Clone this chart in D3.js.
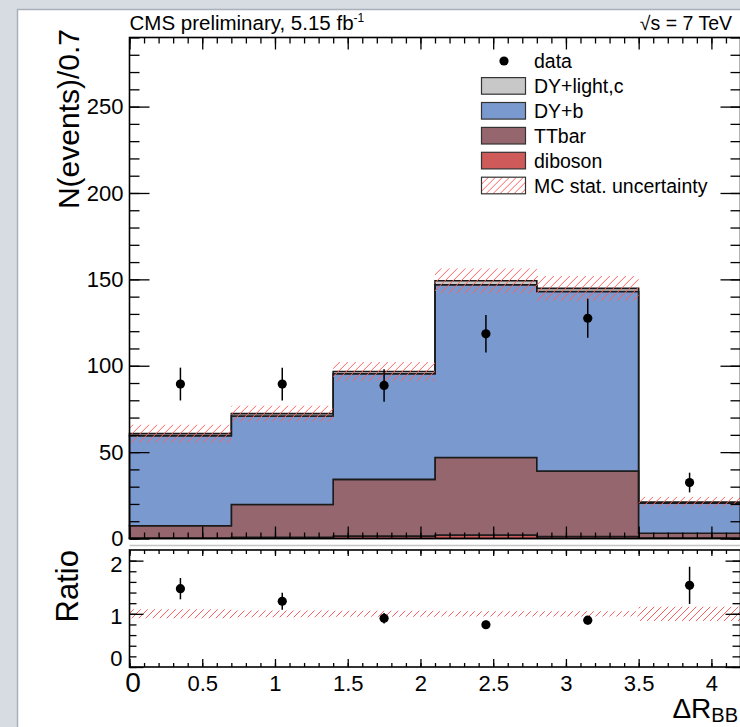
<!DOCTYPE html>
<html>
<head>
<meta charset="utf-8">
<script src="https://cdn.jsdelivr.net/npm/d3@7"></script>
<style>
  html, body { margin: 0; padding: 0; background: #d7dce3; }
  svg { display: block; }
  text { font-family: "Liberation Sans", Arial, Helvetica, sans-serif; fill: #000; }
</style>
</head>
<body>
<svg id="chart" width="740" height="727"></svg>
<script>
// Bin edges in Delta R between the two b candidates (bin width 0.7)
const binEdges = [0, 0.7, 1.4, 2.1, 2.8, 3.5, 4.2];

// Simulated contributions per bin, stacked bottom to top
const diboson   = [0.3, 0.7, 1.4, 2.0, 1.2, 0.3];
const ttbar     = [7.1, 19.0, 32.8, 44.9, 37.9, 2.7];
const dyB       = [52.1, 51.2, 61.2, 100.0, 103.9, 17.5];
const dyLight   = [1.2, 1.4, 1.3, 2.3, 1.8, 0.6];
const mcStatUnc = [5.2, 4.6, 5.5, 7.2, 7.2, 2.9];

// Observed events and their errors
const dataCounts = [89.4, 89.4, 88.6, 118.5, 127.5, 32.4];
const dataErr    = [9.5, 9.5, 9.4, 10.9, 11.3, 5.7];
const ratioErr   = [0.20, 0.16, 0.10, 0.08, 0.08, 0.35];

// Axis tick labels
const yMainTicks  = [0, 50, 100, 150, 200, 250];
const yRatioTicks = [0, 1, 2];
const xTicks      = [0, 0.5, 1, 1.5, 2, 2.5, 3, 3.5, 4];

const processes = [
  { key: "diboson", label: "diboson",     values: diboson, color: "#cf5a5a" },
  { key: "ttbar",   label: "TTbar",       values: ttbar,   color: "#96666e" },
  { key: "dyB",     label: "DY+b",        values: dyB,     color: "#7a99cf" },
  { key: "dyLight", label: "DY+light,c",  values: dyLight, color: "#c8c8c8" }
];

const HATCH_COLOR = "rgb(255,95,95)";
const svg = d3.select("#chart");
const defs = svg.append("defs");

// Page / canvas background with the pad
svg.append("rect").attr("x", 0).attr("y", 0).attr("width", 740).attr("height", 727).attr("fill", "#d7dce3");
svg.append("rect").attr("x", 17.5).attr("y", 9.5).attr("width", 740).attr("height", 740)
  .attr("fill", "#fff").attr("stroke", "#a9b0ba").attr("stroke-width", 1.5);

const x = d3.scaleLinear().domain([0, 4.2]).range([129.5, 740.5]);
const y = d3.scaleLinear().domain([0, 290]).range([538.5, 37.5]);
const yr = d3.scaleLinear().domain([0, 2.2]).range([667, 550]);

// Diagonal hatching clipped to a set of rectangles
let clipCount = 0;
function hatchRects(rects, spacing = 8) {
  const id = "hclip" + (clipCount++);
  const cp = defs.append("clipPath").attr("id", id);
  rects.forEach(r => cp.append("rect").attr("x", r.x).attr("y", r.y).attr("width", r.w).attr("height", r.h));
  const x0 = d3.min(rects, r => r.x), x1 = d3.max(rects, r => r.x + r.w);
  const y0 = d3.min(rects, r => r.y), y1 = d3.max(rects, r => r.y + r.h);
  const H = y1 - y0;
  const g = svg.append("g").attr("clip-path", `url(#${id})`);
  for (let sx = x0 - H - spacing; sx <= x1 + spacing; sx += spacing) {
    g.append("line").attr("x1", sx).attr("y1", y1).attr("x2", sx + H).attr("y2", y0)
      .attr("stroke", HATCH_COLOR).attr("stroke-width", 1);
  }
  return g;
}

// Stacked histograms
const rows = binEdges.slice(0, -1).map((e, i) => {
  const r = { i };
  processes.forEach(p => r[p.key] = p.values[i]);
  return r;
});
const stacked = d3.stack().keys(processes.map(p => p.key))(rows);
const totals = rows.map((r, i) => d3.sum(processes, p => p.values[i]));

const stepArea = d3.area().curve(d3.curveStepAfter)
  .x(d => x(d.x)).y0(d => y(d.lo)).y1(d => y(d.hi));

stacked.forEach((layer, li) => {
  const pts = layer.map((d, i) => ({ x: binEdges[i], lo: d[0], hi: d[1] }));
  const last = layer[layer.length - 1];
  pts.push({ x: binEdges[binEdges.length - 1], lo: last[0], hi: last[1] });
  svg.append("path").attr("d", stepArea(pts))
    .attr("fill", processes[li].color)
    .attr("stroke", "#1a1a1a").attr("stroke-width", 1.6).attr("stroke-linejoin", "miter");
});

// MC stat uncertainty band
hatchRects(totals.map((t, i) => ({
  x: x(binEdges[i]), w: x(binEdges[i + 1]) - x(binEdges[i]),
  y: y(t + mcStatUnc[i]), h: y(t - mcStatUnc[i]) - y(t + mcStatUnc[i])
})));

// Data points
const centers = binEdges.slice(0, -1).map((e, i) => (e + binEdges[i + 1]) / 2);
const dataG = svg.append("g");
dataG.selectAll("line").data(dataCounts).join("line")
  .attr("x1", (d, i) => x(centers[i])).attr("x2", (d, i) => x(centers[i]))
  .attr("y1", (d, i) => y(d - dataErr[i])).attr("y2", (d, i) => y(d + dataErr[i]))
  .attr("stroke", "#000").attr("stroke-width", 1.5);
dataG.selectAll("circle").data(dataCounts).join("circle")
  .attr("cx", (d, i) => x(centers[i])).attr("cy", d => y(d)).attr("r", 4.6).attr("fill", "#000");

// Tick helper: draws ticks pointing into the frame
function ticks(axisFn, scale, values, size, transform) {
  const g = svg.append("g").attr("transform", transform)
    .call(axisFn(scale).tickValues(values).tickSize(-size).tickSizeOuter(0).tickFormat(""));
  g.select(".domain").remove();
  g.selectAll(".tick line").attr("stroke", "#000").attr("stroke-width", 1.3);
  return g;
}
const minorY = d3.range(0, 291, 10);
const minorX = d3.range(0, 42).map(k => +(k * 0.1).toFixed(1));
const majorX = xTicks;

// Main pad ticks
ticks(d3.axisLeft, y, minorY, 10, `translate(${x(0)},0)`);
ticks(d3.axisLeft, y, yMainTicks, 20, `translate(${x(0)},0)`);
ticks(d3.axisRight, y, minorY, 10, `translate(${x(4.2)},0)`);
ticks(d3.axisRight, y, yMainTicks, 20, `translate(${x(4.2)},0)`);
ticks(d3.axisBottom, x, minorX, 6, `translate(0,${y(0)})`);
ticks(d3.axisBottom, x, majorX, 12, `translate(0,${y(0)})`);
ticks(d3.axisTop, x, minorX, 6, `translate(0,${y(290)})`);
ticks(d3.axisTop, x, majorX, 12, `translate(0,${y(290)})`);

// Main y labels
const yLab = svg.append("g").attr("transform", `translate(${x(0)},0)`)
  .call(d3.axisLeft(y).tickValues(yMainTicks).tickSize(0).tickPadding(6));
yLab.select(".domain").remove();
yLab.selectAll("text").attr("font-size", 22).attr("font-family", "Liberation Sans, Arial, sans-serif").attr("fill", "#000");

// Main frame
svg.append("rect").attr("x", x(0)).attr("y", y(290)).attr("width", x(4.2) - x(0)).attr("height", y(0) - y(290))
  .attr("fill", "none").attr("stroke", "#000").attr("stroke-width", 1.6);

// Separator line under the main pad
svg.append("line").attr("x1", x(0)).attr("x2", 740).attr("y1", 545.5).attr("y2", 545.5)
  .attr("stroke", "#c4c4c4").attr("stroke-width", 1.5);

// Ratio pad
const ratio = dataCounts.map((d, i) => d / totals[i]);
hatchRects(totals.map((t, i) => ({
  x: x(binEdges[i]), w: x(binEdges[i + 1]) - x(binEdges[i]),
  y: yr(1 + mcStatUnc[i] / t), h: yr(1 - mcStatUnc[i] / t) - yr(1 + mcStatUnc[i] / t)
})), 7);

const ratioG = svg.append("g");
ratioG.selectAll("line").data(ratio).join("line")
  .attr("x1", (d, i) => x(centers[i])).attr("x2", (d, i) => x(centers[i]))
  .attr("y1", (d, i) => yr(d - ratioErr[i])).attr("y2", (d, i) => yr(d + ratioErr[i]))
  .attr("stroke", "#000").attr("stroke-width", 1.5);
ratioG.selectAll("circle").data(ratio).join("circle")
  .attr("cx", (d, i) => x(centers[i])).attr("cy", d => yr(d)).attr("r", 4.6).attr("fill", "#000");

const minorR = d3.range(0, 11).map(k => +(k * 0.2).toFixed(1));
ticks(d3.axisLeft, yr, minorR, 7, `translate(${x(0)},0)`);
ticks(d3.axisLeft, yr, yRatioTicks, 14, `translate(${x(0)},0)`);
ticks(d3.axisRight, yr, minorR, 8, `translate(${x(4.2)},0)`);
ticks(d3.axisRight, yr, yRatioTicks, 15, `translate(${x(4.2)},0)`);
ticks(d3.axisBottom, x, minorX, 4, `translate(0,${yr(0)})`);
ticks(d3.axisBottom, x, majorX, 8, `translate(0,${yr(0)})`);
ticks(d3.axisTop, x, minorX, 4, `translate(0,${yr(2.2)})`);
ticks(d3.axisTop, x, majorX, 6, `translate(0,${yr(2.2)})`);

svg.append("rect").attr("x", x(0)).attr("y", yr(2.2)).attr("width", x(4.2) - x(0)).attr("height", yr(0) - yr(2.2))
  .attr("fill", "none").attr("stroke", "#000").attr("stroke-width", 1.6);

// Ratio y labels
const yrLab = svg.append("g").attr("transform", `translate(${x(0)},0)`)
  .call(d3.axisLeft(yr).tickValues(yRatioTicks).tickSize(0).tickPadding(7).tickFormat(d3.format("d")));
yrLab.select(".domain").remove();
yrLab.selectAll("text").attr("font-size", 22).attr("font-family", "Liberation Sans, Arial, sans-serif").attr("fill", "#000")
  .attr("dy", d => d === 0 ? "-0.05em" : d === 2 ? "0.5em" : "0.45em");

// X labels
const xLab = svg.append("g").attr("transform", `translate(0,${yr(0)})`)
  .call(d3.axisBottom(x).tickValues(xTicks).tickSize(0).tickPadding(8).tickFormat(d3.format("")));
xLab.select(".domain").remove();
xLab.selectAll("text").attr("font-size", d => d === 0 ? 28 : 22)
  .attr("font-family", "Liberation Sans, Arial, sans-serif").attr("fill", "#000")
  .attr("x", d => d === 0 ? 3 : 0)
  .attr("dy", d => d === 0 ? "0.62em" : "0.71em");

// Axis titles
svg.append("text").attr("transform", "translate(79,29) rotate(-90)")
  .attr("text-anchor", "end").attr("font-size", 30).text("N(events)/0.7");
svg.append("text").attr("transform", "translate(78,550) rotate(-90)")
  .attr("text-anchor", "end").attr("font-size", 31).text("Ratio");
const xt = svg.append("text").attr("x", 738).attr("y", 717.5).attr("text-anchor", "end").attr("font-size", 28);
xt.append("tspan").text("ΔR");
xt.append("tspan").attr("font-size", 20).attr("dy", 4.5).text("BB");

// Header texts
const title = svg.append("text").attr("x", 129.5).attr("y", 30).attr("font-size", 20.5);
title.append("tspan").text("CMS preliminary, 5.15 fb");
title.append("tspan").attr("font-size", 12).attr("dy", -8).text("-1");
svg.append("text").attr("x", 732).attr("y", 30).attr("text-anchor", "end").attr("font-size", 19.5).text("√s = 7 TeV");

// Legend
const legendItems = [
  { label: "data", type: "marker" },
  { label: "DY+light,c", type: "box", fill: "#c8c8c8" },
  { label: "DY+b", type: "box", fill: "#7a99cf" },
  { label: "TTbar", type: "box", fill: "#96666e" },
  { label: "diboson", type: "box", fill: "#cf5a5a" },
  { label: "MC stat. uncertainty", type: "hatch" }
];
legendItems.forEach((it, k) => {
  const cy = 61 + k * 24.9;
  if (it.type === "marker") {
    svg.append("circle").attr("cx", 504).attr("cy", cy).attr("r", 4.6).attr("fill", "#000");
  } else {
    if (it.type === "hatch") {
      hatchRects([{ x: 481.5, y: cy - 8.3, w: 44, h: 16.6 }], 7);
    }
    svg.append("rect").attr("x", 481.5).attr("y", cy - 8.3).attr("width", 44).attr("height", 16.6)
      .attr("fill", it.type === "hatch" ? "none" : it.fill).attr("stroke", "#333").attr("stroke-width", 1.2);
  }
  svg.append("text").attr("x", 534).attr("y", cy + 7).attr("font-size", 19.5).text(it.label);
});
</script>
</body>
</html>
